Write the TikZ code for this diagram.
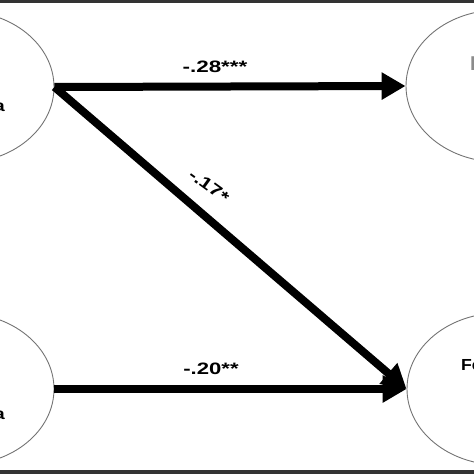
\documentclass[tikz,border=0pt]{standalone}
\usepackage{fontspec}
\usepackage{graphicx}
\setmainfont{Liberation Sans}
\usetikzlibrary{arrows.meta,shapes.geometric}
\begin{document}
\begin{tikzpicture}[x=1pt,y=-1pt,
  latent/.style={draw=black!55, line width=0.9pt, ellipse, minimum width=186pt, minimum height=152pt, inner sep=0pt},
  effect/.style={line width=8pt, -{Triangle[length=24pt,width=26pt]}},
  coef/.style={font=\bfseries\fontsize{16.5}{18}\selectfont, inner sep=0pt},
  part/.style={font=\bfseries\fontsize{16}{18}\selectfont, inner sep=0pt}]
\useasboundingbox (0,0) rectangle (474,474);
\clip (0,0) rectangle (474,474);
\fill[black!80] (0,0) rectangle (474,3);
\fill[black!80] (0,470) rectangle (474,474);
\node[latent] (TL) at (-39,87) {};
\node[latent] (BL) at (-39,389) {};
\node[latent] (TR) at (499,86) {};
\node[latent] (BR) at (500,389) {};
\node[part, anchor=base east] (tla) at (5,111) {\scalebox{1.2}[1]{a}};
\node[part, anchor=base east] (bla) at (5,419) {\scalebox{1.2}[1]{a}};
\node[part, text=black!45, anchor=base west, font=\bfseries\fontsize{20}{22}\selectfont] (tri) at (470,70) {I};
\node[part, anchor=base west] (brf) at (461,370) {\scalebox{1.1}[1]{Fe}};
\draw[effect] (TL.east) -- (TR.west);
\draw[effect] (BL.east) -- (BR.west);
\draw[effect] (TL.east) -- (BR.west);
\node[coef] (c1) at (215,67) {\scalebox{1.36}[1]{-.28***}};
\node[coef] (c2) at (211,369) {\scalebox{1.34}[1]{-.20**}};
\node[coef, rotate=-36] (c3) at (209,186) {\scalebox{1.3}[1]{-.17*}};
\end{tikzpicture}
\end{document}
